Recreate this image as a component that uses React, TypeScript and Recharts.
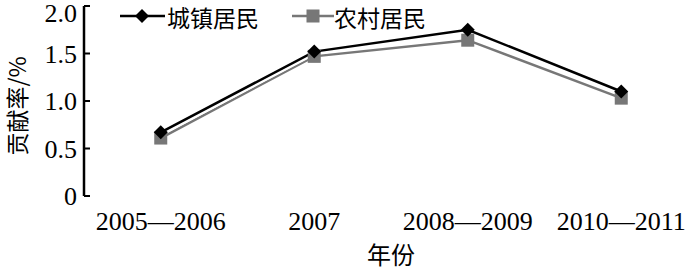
import { LineChart, Line, XAxis, YAxis, Legend } from "recharts"

const periods = ["2005—2006", "2007", "2008—2009", "2010—2011"]
const urban = [0.67, 1.52, 1.75, 1.1]
const rural = [0.61, 1.47, 1.64, 1.03]
const yTicks = [0, 0.5, 1.0, 1.5, 2.0]
const centers = [0.5, 1.5, 2.5, 3.5]
const edges = [1, 2, 3, 4]

const data = periods.map((p, i) => ({
  x: centers[i],
  period: p,
  urban: urban[i],
  rural: rural[i],
}))

const SERIF = '"Liberation Serif", serif'
const CJK = '"Noto Sans CJK SC", sans-serif'
const GRAY = "#777777"

function Diamond(props: any) {
  const { cx, cy } = props
  if (cx == null || cy == null) return null
  const r = 7
  return (
    <polygon
      points={`${cx},${cy - r} ${cx + r},${cy} ${cx},${cy + r} ${cx - r},${cy}`}
      fill="#000"
    />
  )
}

function Square(props: any) {
  const { cx, cy } = props
  if (cx == null || cy == null) return null
  const s = 13
  return <rect x={cx - s / 2} y={cy - s / 2} width={s} height={s} fill={GRAY} />
}

function XTick(props: any) {
  const { x, y, payload } = props
  return (
    <text
      x={x}
      y={y}
      dy="0.71em"
      textAnchor="middle"
      fontSize={26}
      fontFamily={SERIF}
      fill="#000"
    >
      {periods[Math.floor(payload.value)]}
    </text>
  )
}

function YTick(props: any) {
  const { x, y, payload } = props
  const v = payload.value
  // top label sits a little below its tick so it stays inside the picture
  const ty = Math.max(y, 13)
  return (
    <text
      x={x}
      y={ty}
      dy="0.355em"
      textAnchor="end"
      fontSize={26}
      fontFamily={SERIF}
      fill="#000"
    >
      {v === 0 ? "0" : v.toFixed(1)}
    </text>
  )
}

function LegendBox() {
  return (
    <svg width={340} height={40} style={{ display: "block" }}>
      <line x1={5} y1={16} x2={50} y2={16} stroke="#000" strokeWidth={2.5} />
      <Diamond cx={27} cy={16} />
      <text x={52} y={27} fontSize={23} fontFamily={CJK} fill="#000">
        城镇居民
      </text>
      <line x1={177} y1={16} x2={219} y2={16} stroke={GRAY} strokeWidth={2.5} />
      <Square cx={198} cy={16} />
      <text x={219} y={27} fontSize={23} fontFamily={CJK} fill="#000">
        农村居民
      </text>
    </svg>
  )
}

export default function App() {
  return (
    <div style={{ position: "absolute", left: 0, top: 0, background: "#fff" }}>
      <LineChart
        width={700}
        height={270}
        data={data}
        margin={{ top: 6, right: 2, bottom: 0, left: 0 }}
      >
        <XAxis
          xAxisId="edges"
          dataKey="x"
          type="number"
          domain={[0, 4]}
          ticks={edges}
          tickFormatter={() => ""}
          tickSize={-6}
          height={0}
          axisLine={{ stroke: "#000", strokeWidth: 2.5 }}
          tickLine={{ stroke: "#000", strokeWidth: 2 }}
        />
        <XAxis
          dataKey="x"
          type="number"
          domain={[0, 4]}
          ticks={centers}
          axisLine={false}
          tickLine={false}
          tickSize={0}
          tickMargin={16}
          height={74}
          tick={<XTick />}
          label={{
            value: "年份",
            position: "insideBottom",
            offset: 6,
            fill: "#000",
            fontSize: 24,
            fontFamily: CJK,
          }}
        />
        <YAxis
          type="number"
          domain={[0, 2]}
          ticks={yTicks}
          width={84}
          tickSize={-6}
          tickMargin={13}
          axisLine={{ stroke: "#000", strokeWidth: 2.5 }}
          tickLine={{ stroke: "#000", strokeWidth: 2 }}
          tick={<YTick />}
          label={(p: any) => {
            const vb = p.viewBox
            const cy = vb.y + vb.height / 2 + 5
            return (
              <text
                x={16}
                y={cy}
                transform={`rotate(-90, 16, ${cy})`}
                textAnchor="middle"
                dominantBaseline="central"
                fontSize={23}
                fill="#000"
                fontFamily={CJK}
              >
                贡献率/%
              </text>
            )
          }}
        />
        <Legend
          layout="horizontal"
          verticalAlign="middle"
          align="center"
          content={() => <LegendBox />}
          wrapperStyle={{ position: "absolute", left: 115, top: 0, width: 340 }}
        />
        <Line
          dataKey="rural"
          stroke={GRAY}
          strokeWidth={2.5}
          dot={<Square />}
          isAnimationActive={false}
        />
        <Line
          dataKey="urban"
          stroke="#fff"
          strokeWidth={7}
          dot={false}
          legendType="none"
          isAnimationActive={false}
        />
        <Line
          dataKey="urban"
          stroke="#000"
          strokeWidth={2.5}
          dot={<Diamond />}
          isAnimationActive={false}
        />
      </LineChart>
    </div>
  )
}
